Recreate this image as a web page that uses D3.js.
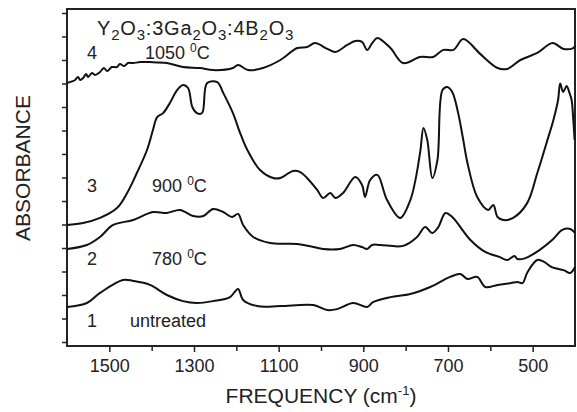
<!DOCTYPE html>
<html>
<head>
<meta charset="utf-8">
<script src="https://cdn.jsdelivr.net/npm/d3@7"></script>
<style>
  body { margin: 0; background: #fff; }
  svg { display: block; font-family: "Liberation Sans", Arial, sans-serif; }
</style>
</head>
<body>
<div id="chart"></div>
<script>
// IR absorbance spectra of Y2O3:3Ga2O3:4B2O3 after different heat treatments
// Each curve: [frequency (cm-1), absorbance (offset, a.u.)]

// 1 - untreated
let curve1 = [
  [1600, 0.149], [1553, 0.166], [1522, 0.209], [1468, 0.264], [1444, 0.260],
  [1404, 0.243], [1364, 0.200], [1326, 0.174], [1293, 0.166], [1255, 0.174],
  [1215, 0.191], [1196, 0.226], [1184, 0.179], [1151, 0.153], [1096, 0.153],
  [1018, 0.157], [985, 0.136], [962, 0.140], [924, 0.166], [891, 0.149],
  [877, 0.170], [836, 0.191], [789, 0.204], [742, 0.234], [695, 0.277],
  [671, 0.289], [654, 0.268], [631, 0.277], [612, 0.234], [583, 0.243],
  [551, 0.251], [536, 0.255], [524, 0.251], [512, 0.298], [489, 0.349],
  [472, 0.340], [455, 0.319], [427, 0.306], [411, 0.294], [400, 0.319]
];

// 2 - 780 C
let curve2 = [
  [1600, 0.396], [1553, 0.413], [1522, 0.447], [1491, 0.498], [1444, 0.519],
  [1397, 0.553], [1364, 0.549], [1333, 0.562], [1302, 0.536], [1278, 0.536],
  [1255, 0.566], [1231, 0.553], [1210, 0.532], [1196, 0.545], [1184, 0.498],
  [1160, 0.447], [1120, 0.421], [1056, 0.417], [1018, 0.404], [995, 0.396],
  [955, 0.396], [924, 0.413], [903, 0.404], [891, 0.396], [879, 0.413],
  [860, 0.413], [806, 0.409], [773, 0.447], [754, 0.489], [737, 0.464],
  [723, 0.489], [706, 0.549], [690, 0.532], [647, 0.434], [612, 0.383],
  [579, 0.362], [560, 0.349], [543, 0.366], [536, 0.353], [517, 0.357],
  [484, 0.391], [454, 0.434], [430, 0.477], [411, 0.481], [400, 0.464]
];

// 3 - 900 C
let curve3 = [
  [1600, 0.498], [1562, 0.506], [1522, 0.528], [1482, 0.570], [1458, 0.634],
  [1435, 0.719], [1411, 0.817], [1397, 0.902], [1387, 0.957], [1373, 0.974],
  [1357, 1.017], [1340, 1.072], [1326, 1.094], [1314, 1.081], [1304, 1.000],
  [1293, 0.974], [1281, 0.974], [1269, 1.102], [1245, 1.106], [1231, 1.060],
  [1208, 0.974], [1191, 0.889], [1174, 0.817], [1144, 0.732], [1113, 0.698],
  [1096, 0.698], [1066, 0.728], [1049, 0.723], [1033, 0.698], [1009, 0.647],
  [995, 0.613], [978, 0.634], [966, 0.613], [948, 0.634], [919, 0.702],
  [903, 0.668], [896, 0.617], [884, 0.689], [867, 0.711], [844, 0.604],
  [813, 0.528], [789, 0.604], [777, 0.689], [765, 0.817], [758, 0.911],
  [749, 0.860], [737, 0.698], [725, 0.774], [713, 1.072], [702, 1.085],
  [690, 1.064], [676, 0.974], [664, 0.860], [654, 0.762], [631, 0.617],
  [605, 0.562], [593, 0.583], [583, 0.532], [569, 0.519], [546, 0.528],
  [513, 0.591], [489, 0.719], [465, 0.860], [451, 0.945], [440, 1.030],
  [435, 1.100], [428, 1.064], [420, 1.089], [413, 1.060], [408, 1.030],
  [404, 0.945], [401, 0.860]
];

// 4 - 1050 C
let curve4 = [
  [1600, 1.102], [1581, 1.115], [1574, 1.128], [1569, 1.115], [1562, 1.123],
  [1555, 1.140], [1550, 1.128], [1541, 1.145], [1534, 1.136], [1522, 1.149],
  [1513, 1.166], [1505, 1.153], [1494, 1.170], [1482, 1.170], [1475, 1.183],
  [1465, 1.174], [1456, 1.187], [1444, 1.187], [1427, 1.191], [1404, 1.191],
  [1364, 1.187], [1326, 1.170], [1286, 1.166], [1255, 1.157], [1208, 1.166],
  [1196, 1.179], [1172, 1.157], [1137, 1.166], [1096, 1.200], [1056, 1.251],
  [1033, 1.255], [1014, 1.272], [985, 1.247], [966, 1.234], [938, 1.264],
  [919, 1.281], [903, 1.277], [891, 1.243], [879, 1.272], [867, 1.294],
  [836, 1.251], [806, 1.187], [766, 1.213], [735, 1.213], [711, 1.243],
  [687, 1.243], [664, 1.289], [624, 1.226], [583, 1.166], [560, 1.162],
  [529, 1.200], [489, 1.230], [453, 1.272], [427, 1.247], [404, 1.251],
  [400, 1.260]
];

let curves = [curve1, curve2, curve3, curve4];

// x axis ticks (major labelled, minor in between)
let xMajorTicks = [1500, 1300, 1100, 900, 700, 500];
let xMinorTicks = [1400, 1200, 1000, 800, 600];
// y axis ticks carry no labels
let yTicks = [0, 0.1, 0.2, 0.3, 0.4, 0.5, 0.6, 0.7, 0.8, 0.9, 1.0, 1.1, 1.2, 1.3, 1.4];

// curve labels: number, temperature text, position in data units
let labelNums = ["1", "2", "3", "4"];
let labelTexts = ["untreated", "780", "900", "1050"];
let labelFreqs = [1588, 1588, 1588, 1588];
let labelNumY = [0.065, 0.327, 0.64, 1.204];
let labelTextFreqs = [1451, 1399, 1399, 1416];

// Layout
let width = 577;
let height = 412;
let margin = { top: 9, right: 2, bottom: 66, left: 67 };

let x = d3.scaleLinear()
  .domain([1600, 400])
  .range([margin.left, width - margin.right]);

let y = d3.scaleLinear()
  .domain([-0.017, 1.417])
  .range([height - margin.bottom, margin.top]);

let svg = d3.select("#chart")
  .append("svg")
  .attr("width", width)
  .attr("height", height);

// Bottom axis - labelled major ticks
svg.append("g")
  .attr("transform", `translate(0,${height - margin.bottom})`)
  .call(d3.axisBottom(x).tickValues(xMajorTicks).tickFormat(d3.format("d"))
    .tickSize(6).tickSizeOuter(0).tickPadding(7))
  .call(g => g.select(".domain").remove())
  .call(g => g.selectAll("line").attr("stroke", "#222").attr("stroke-width", 1.5))
  .call(g => g.selectAll("text")
    .attr("font-size", 18)
    .attr("font-family", "Liberation Sans, Arial, sans-serif")
    .attr("fill", "#222"));

// Bottom axis - minor ticks
svg.append("g")
  .attr("transform", `translate(0,${height - margin.bottom})`)
  .call(d3.axisBottom(x).tickValues(xMinorTicks).tickSize(5).tickFormat(""))
  .call(g => g.select(".domain").remove())
  .call(g => g.selectAll("line").attr("stroke", "#222").attr("stroke-width", 1.5));

// Left axis ticks
svg.append("g")
  .attr("transform", `translate(${margin.left},0)`)
  .call(d3.axisLeft(y).tickValues(yTicks).tickSize(5).tickFormat(""))
  .call(g => g.select(".domain").remove())
  .call(g => g.selectAll("line").attr("stroke", "#222").attr("stroke-width", 1.5));

// Frame round the plot
svg.append("rect")
  .attr("x", margin.left)
  .attr("y", margin.top)
  .attr("width", width - margin.left - margin.right)
  .attr("height", height - margin.top - margin.bottom)
  .attr("fill", "none")
  .attr("stroke", "#222")
  .attr("stroke-width", 2);

// Spectra
let line = d3.line()
  .x(d => x(d[0]))
  .y(d => y(d[1]))
  .curve(d3.curveCatmullRom.alpha(0.5));

svg.append("g")
  .selectAll("path")
  .data(curves)
  .enter().append("path")
  .attr("d", line)
  .attr("fill", "none")
  .attr("stroke", "#111")
  .attr("stroke-width", 2)
  .attr("stroke-linejoin", "round");

// Curve numbers
svg.append("g")
  .selectAll("text")
  .data(labelNums)
  .enter().append("text")
  .attr("x", (d, i) => x(labelFreqs[i]) + 15)
  .attr("y", (d, i) => y(labelNumY[i]))
  .attr("font-size", 18)
  .attr("fill", "#222")
  .text(d => d);

// Temperatures / treatment text
let tempText = svg.append("g")
  .selectAll("text")
  .data(labelTexts)
  .enter().append("text")
  .attr("x", (d, i) => x(labelTextFreqs[i]))
  .attr("y", (d, i) => y(labelNumY[i]))
  .attr("font-size", 18)
  .attr("fill", "#222");

tempText.append("tspan").text(d => d === "untreated" ? d : d + " ");
tempText.filter(d => d !== "untreated")
  .append("tspan").attr("dy", -7).attr("font-size", 12).text("0");
tempText.filter(d => d !== "untreated")
  .append("tspan").attr("dy", 7).text("C");

// Title with subscripts (absolute baselines for each piece)
let formula = [["Y", "2"], ["O", "3"], [":3Ga", "2"], ["O", "3"], [":4B", "2"], ["O", "3"]];
let titleY = 35;
let title = svg.append("text")
  .attr("x", 97)
  .attr("y", titleY)
  .attr("font-size", 20)
  .attr("letter-spacing", 0.8)
  .attr("fill", "#222");
formula.forEach(p => {
  title.append("tspan").attr("y", titleY).text(p[0]);
  title.append("tspan").attr("y", titleY + 5).attr("font-size", 15).text(p[1]);
});

// Axis titles
let xTitle = svg.append("text")
  .attr("x", (margin.left + width - margin.right) / 2)
  .attr("y", 403)
  .attr("text-anchor", "middle")
  .attr("font-size", 21)
  .attr("fill", "#222");
xTitle.append("tspan").text("FREQUENCY (cm");
xTitle.append("tspan").attr("dy", -8).attr("font-size", 13).text("-1");
xTitle.append("tspan").attr("dy", 8).text(")");

svg.append("text")
  .attr("transform", `translate(30,168) rotate(-90)`)
  .attr("text-anchor", "middle")
  .attr("font-size", 21)
  .attr("fill", "#222")
  .text("ABSORBANCE");
</script>
</body>
</html>
